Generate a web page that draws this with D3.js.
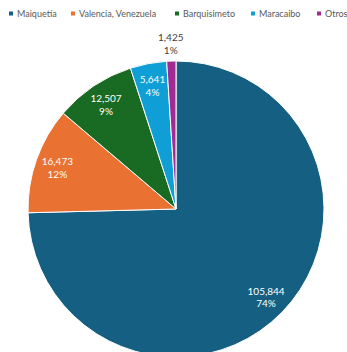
<!DOCTYPE html>
<html>
<head>
<meta charset="utf-8">
<script src="https://cdn.jsdelivr.net/npm/d3@7"></script>
<style>
  body { margin: 0; background: #fff; }
  text { font-family: Lato, 'Noto Sans', sans-serif; }
</style>
</head>
<body>
<div id="chart"></div>
<script>
let categories = ['Maiquetía', 'Valencia, Venezuela', 'Barquisimeto', 'Maracaibo', 'Otros']
let values = [105844, 16473, 12507, 5641, 1425]
let percents = ['74%', '12%', '9%', '4%', '1%']
let colors = ['#156082', '#E97132', '#196B24', '#0F9ED5', '#A02B93']

let width = 347
let height = 352

let svg = d3.select('#chart')
  .append('svg')
  .attr('width', width)
  .attr('height', height)

let cx = 176
let cy = 209
let radius = 148

let pie = d3.pie().sort(null).value(d => d.value)
let arc = d3.arc().innerRadius(0).outerRadius(radius)
let labelArc = d3.arc().innerRadius(radius * 0.85).outerRadius(radius * 0.85)
let outerArc = d3.arc().innerRadius(radius * 1.12).outerRadius(radius * 1.12)

let data = categories.map((c, i) => ({ name: c, value: values[i], pct: percents[i], color: colors[i] }))
let arcs = pie(data)

let g = svg.append('g')
  .attr('transform', 'translate(' + cx + ',' + cy + ')')

g.selectAll('.slice')
  .data(arcs)
  .enter()
  .append('path')
  .attr('class', 'slice')
  .attr('d', arc)
  .attr('fill', d => d.data.color)
  .attr('stroke', '#fff')
  .attr('stroke-width', 1)

// labels: inside, except the tiny one goes outside
let labels = g.selectAll('.label')
  .data(arcs)
  .enter()
  .append('text')
  .attr('class', 'label')
  .attr('text-anchor', 'middle')
  .attr('font-size', 10)
  .attr('fill', d => d.data.name === 'Otros' ? '#404040' : '#fff')
  .attr('transform', d => {
    let p = d.data.name === 'Otros' ? outerArc.centroid(d) : labelArc.centroid(d)
    return 'translate(' + p[0] + ',' + p[1] + ')'
  })

labels.append('tspan')
  .attr('x', 0)
  .attr('dy', '-0.2em')
  .text(d => d3.format(',')(d.data.value))

labels.append('tspan')
  .attr('x', 0)
  .attr('dy', '1.25em')
  .text(d => d.data.pct)

// legend
let legendX = [9, 71, 175, 251, 317]
let legend = svg.selectAll('.legend')
  .data(data)
  .enter()
  .append('g')
  .attr('class', 'legend')
  .attr('transform', (d, i) => 'translate(' + legendX[i] + ',14)')

legend.append('rect')
  .attr('x', 0)
  .attr('y', -2.5)
  .attr('width', 4)
  .attr('height', 4)
  .attr('fill', d => d.color)

legend.append('text')
  .attr('x', 8)
  .attr('y', 3)
  .attr('font-size', 9)
  .attr('fill', '#595959')
  .text(d => d.name)
</script>
</body>
</html>
